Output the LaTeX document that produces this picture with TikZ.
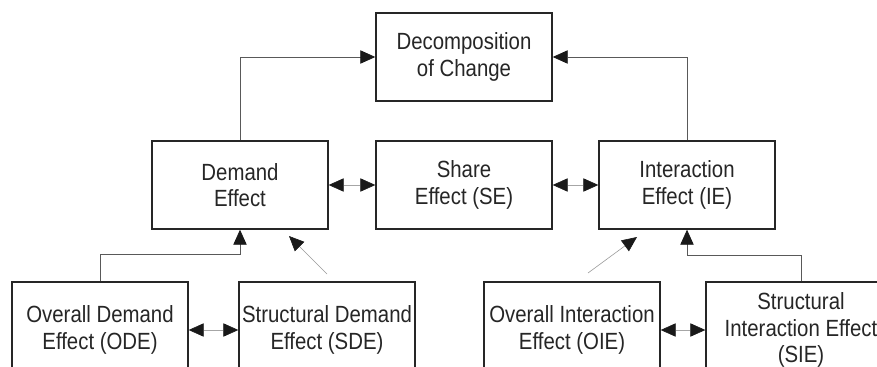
\documentclass[tikz,border=0pt]{standalone}
\usepackage{fontspec}
\setmainfont{Liberation Sans}
\newfontfamily\boxfam[FakeStretch=0.87]{Liberation Sans}
\usetikzlibrary{arrows.meta}
\newcommand\boxfont{\boxfam\fontsize{20}{22.5}\selectfont}

\begin{document}
\begin{tikzpicture}
    \tikzset{box/.style={draw=black!85,line width=1.2pt,minimum width=5.28cm,minimum height=2.64cm,align=center,inner sep=1pt,font=\boxfont,text=black!85},
             conn/.style={draw=black!65,line width=0.7pt,-{Triangle[length=0.45cm,width=0.4cm,color=black!90]}},
             both/.style={draw=black!35,line width=0.5pt,{Triangle[length=0.45cm,width=0.4cm,color=black!90]}-{Triangle[length=0.45cm,width=0.4cm,color=black!90]}},
             diag/.style={draw=black!40,line width=0.5pt,-{Triangle[length=0.45cm,width=0.4cm,color=black!90]}}};
	\clip (0,0) rectangle (26.31,-11.01);
	\fill[white] (0,0) rectangle (26.31,-11.01);
	% top and middle row
	\node (dec) at (13.92,-1.71) [box]{Decomposition\\of Change};
	\node (demand) at (7.2,-5.55) [box]{Demand\\Effect};
	\node (share) at (13.92,-5.55) [box]{Share\\Effect (SE)};
	\node (inter) at (20.61,-5.55) [box]{Interaction\\Effect (IE)};
	% bottom row
	\node (ode) at (3.0,-9.9) [box,minimum height=2.88cm]{Overall Demand\\Effect (ODE)};
	\node (sde) at (9.81,-9.9) [box,minimum height=2.88cm]{Structural Demand\\Effect (SDE)};
	\node (oie) at (17.16,-9.9) [box,minimum height=2.88cm]{Overall Interaction\\Effect (OIE)};
	\node (sie) at (24.03,-9.9) [box,minimum height=2.88cm,minimum width=5.7cm]{Structural\\Interaction Effect\\(SIE)};
	\coordinate (sdetail) at (9.81,-8.22);
	\coordinate (sdetip) at (8.67,-7.08);
	\coordinate (oietail) at (17.64,-8.19);
	\coordinate (oietip) at (19.11,-7.11);
	\draw[conn] (demand.north) |- (dec.west);
	\draw[conn] (inter.north) |- (dec.east);
	\draw[both] (demand) -- (share);
	\draw[both] (share) -- (inter);
	\draw[both] (ode) -- (sde);
	\draw[both] (oie) -- (sie);
	\draw[conn] (ode.north) -- ++(0,0.81) -| (demand.south);
	\draw[conn] (sie.north) -- ++(0,0.78) -| (inter.south);
	\draw[diag] (sdetail) -- (sdetip);
	\draw[diag] (oietail) -- (oietip);
\end{tikzpicture}
\end{document}
